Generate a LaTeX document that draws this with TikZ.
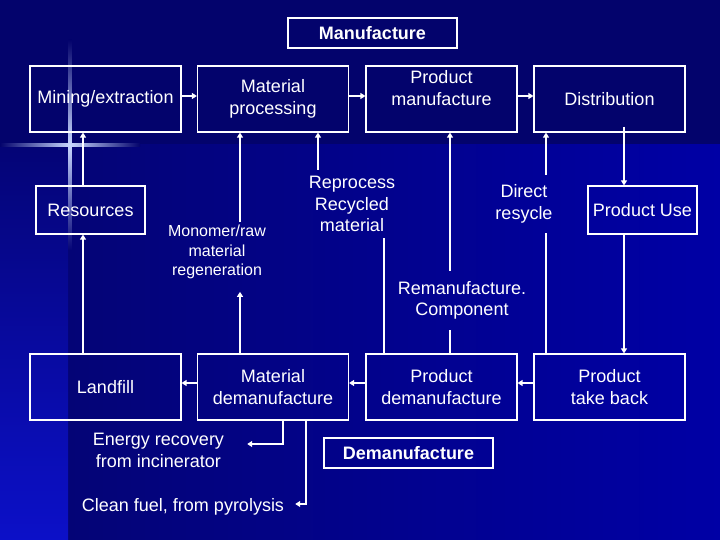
\documentclass[tikz,border=0pt]{standalone}
\usepackage{fontspec}
\setmainfont{Liberation Sans}
\usetikzlibrary{arrows.meta}
\definecolor{bgdark}{RGB}{3,3,108}
\definecolor{bglow}{RGB}{4,4,118}
\definecolor{bgright}{RGB}{0,0,165}
\definecolor{bgstripe}{RGB}{12,16,200}
\definecolor{glow}{RGB}{200,215,255}

\begin{document}
\begin{tikzpicture}[x=1pt, y=-1pt,
		every node/.style={text=white, font=\fontsize{18}{21.6}\selectfont},
		box/.style={
			draw=white, line width=1.2pt,
			minimum width=151pt, minimum height=66pt,
			align=center, inner sep=0pt,
		},
		smallbox/.style={box, minimum width=109pt, minimum height=48pt},
		titlebox/.style={box, minimum width=169pt, minimum height=30pt,
			font=\fontsize{18}{21.6}\selectfont\bfseries},
		wlabel/.style={align=center, inner sep=6pt},
		wire/.style={white, line width=1.8pt},
		arrow/.style={wire, -{Triangle[width=6pt,length=5pt]}},
		]
		
		\fill[bgdark] (0,0) rectangle (720,540);
		\shade[left color=bglow, right color=bgright] (68,145) rectangle (720,540);
		\shade[top color=bglow, bottom color=bgstripe] (0,145) rectangle (68,540);
		\shade[left color=bgdark, right color=bgdark, middle color=glow] (0,143.5) rectangle (140,146.5);
		\shade[top color=bgdark, bottom color=bglow, middle color=glow] (68.5,40) rectangle (71.5,250);
		\useasboundingbox (0,0) rectangle (720,540);
		
		\node[titlebox] (manufacture)   at (372.5,33)  {Manufacture};
		\node[box]      (mining)        at (105.5,99)  {Mining/extraction};
		\node[box]      (matproc)       at (273,99)    {Material\\processing};
		\node[box]      (prodman)       at (441.5,99)  {Product\\manufacture\\~};
		\node[box]      (distribution)  at (609.5,99)  {Distribution};
		\node[smallbox] (resources)     at (90.5,210)  {Resources};
		\node[smallbox] (productuse)    at (642.5,210) {Product Use};
		\node[box]      (landfill)      at (105.5,387) {Landfill};
		\node[box]      (matdem)        at (273,387)   {Material\\demanufacture};
		\node[box]      (proddem)       at (441.5,387) {Product\\demanufacture};
		\node[box]      (takeback)      at (609.5,387) {Product\\take back};
		\node[titlebox] (demanufacture) at (408.5,453) {Demanufacture};
		
		\node[wlabel, inner sep=3pt, font=\fontsize{16}{19.2}\selectfont]
		(monomer)   at (217,252)     {Monomer/raw\\material\\regeneration};
		\node[wlabel] (reprocess) at (352,204)     {Reprocess\\Recycled\\material};
		\node[wlabel, inner sep=10.5pt] (remanuf) at (462,300.5) {Remanufacture.\\Component};
		\node[wlabel, inner sep=10pt]   (direct)  at (524,204)   {Direct\\resycle};
		\node[wlabel] (energy)    at (158.5,450.5) {Energy recovery\\from incinerator};
		\node[wlabel] (cleanfuel) at (183,507)     {Clean fuel, from pyrolysis};
		
		\draw[arrow] ([yshift=3pt]mining.east)  -- ([yshift=3pt]matproc.west);
		\draw[arrow] ([yshift=3pt]matproc.east) -- ([yshift=3pt]prodman.west);
		\draw[arrow] ([yshift=3pt]prodman.east) -- ([yshift=3pt]distribution.west);
		\draw[arrow] ([yshift=4pt]takeback.west) -- ([yshift=4pt]proddem.east);
		\draw[arrow] ([yshift=4pt]proddem.west)  -- ([yshift=4pt]matdem.east);
		\draw[arrow] ([yshift=4pt]matdem.west)   -- ([yshift=4pt]landfill.east);
		
		\draw[arrow] ([xshift=14.5pt,yshift=6pt]distribution.south)
		-- ([xshift=14.5pt]distribution.south |- productuse.north);
		\draw[arrow] ([xshift=-18.5pt]productuse.south)
		-- ([xshift=-18.5pt]productuse.south |- takeback.north);
		\draw[arrow] ([xshift=-22.5pt]landfill.north)
		-- ([xshift=-22.5pt]landfill.north |- resources.south);
		\draw[arrow] ([xshift=-7.5pt]resources.north)
		-- ([xshift=-7.5pt]resources.north |- mining.south);
		
		\draw[arrow, shorten >=10pt] ([xshift=-33pt]matdem.north)
		-- ([xshift=-33pt]matdem.north |- monomer.south);
		\draw[arrow] ([xshift=-33pt]matproc.south |- monomer.north)
		-- ([xshift=-33pt]matproc.south);
		\draw[wire] ([xshift=-57.5pt]proddem.north)
		-- ([xshift=-57.5pt]proddem.north |- reprocess.south);
		\draw[arrow] ([xshift=45pt]matproc.south |- reprocess.north)
		-- ([xshift=45pt]matproc.south);
		\draw[wire] ([xshift=8.5pt]proddem.north)
		-- ([xshift=8.5pt]proddem.north |- remanuf.south);
		\draw[arrow] ([xshift=8.5pt]prodman.south |- remanuf.north)
		-- ([xshift=8.5pt]prodman.south);
		\draw[wire] ([xshift=-63.5pt]takeback.north)
		-- ([xshift=-63.5pt]takeback.north |- direct.south);
		\draw[arrow] ([xshift=-63.5pt]distribution.south |- direct.north)
		-- ([xshift=-63.5pt]distribution.south);
		
		\draw[arrow] ([xshift=10pt]matdem.south) |- ([xshift=17pt,yshift=6.5pt]energy.east);
		\draw[arrow] ([xshift=33pt]matdem.south) |- ([xshift=5pt,yshift=3pt]cleanfuel.east);
		
	\end{tikzpicture}
\end{document}
